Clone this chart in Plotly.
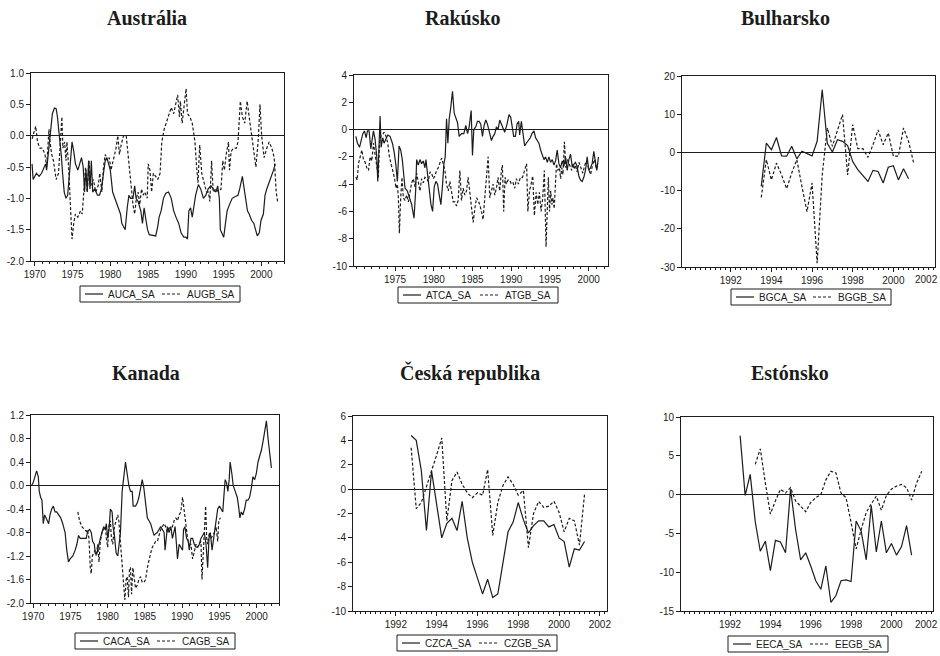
import plotly.graph_objects as go

# ---------------- data ----------------
# Austrália
au_ca_t = [1969.64,1969.78,1970.22,1970.58,1970.9,1971.21,1971.43,1971.57,1971.79,1971.93,
           1972.11,1972.33,1972.6,1972.83,1973.0,1973.27,1973.5,1973.68,1973.9,1974.13,
           1974.35,1974.53,1974.71,1974.93,1975.16,1975.38,1975.7,1975.96,1976.19,1976.41,
           1976.59,1976.77,1976.95,1977.13,1977.31,1977.49,1977.67,1977.94,1978.3,1978.57,
           1978.83,1979.1,1979.33,1979.55,1979.73,1980.0,1980.31,1980.76,1981.08,1981.35,
           1981.52,1981.79,1981.97,1982.24,1982.47,1982.69,1983.0,1983.23,1983.41,1983.68,
           1984.04,1984.26,1984.48,1984.66,1984.93,1985.16,1985.7,1986.01,1986.28,1986.46,
           1986.73,1987.04,1987.35,1987.71,1988.07,1988.39,1988.7,1989.06,1989.37,1989.73,
           1990.04,1990.22,1990.4,1990.63,1990.85,1991.08,1991.3,1991.66,1991.97,1992.33,
           1992.65,1992.96,1993.32,1993.63,1993.99,1994.22,1994.44,1994.57,1994.8,1995.02,
           1995.25,1995.47,1995.78,1996.14,1996.55,1996.91,1997.13,1997.49,1997.67,1997.94,
           1998.16,1998.39,1998.7,1999.01,1999.24,1999.46,1999.73,1999.96,2000.27,2000.49,
           2000.72,2001.03,2001.3,2001.61,2001.84]
au_ca = [-0.45,-0.7,-0.6,-0.65,-0.6,-0.5,-0.45,-0.55,-0.3,-0.1,
         0.1,0.35,0.44,0.43,0.3,0.0,-0.3,-0.6,-0.9,-1.0,
         -0.95,-0.7,-0.35,-0.1,-0.25,-0.45,-0.55,-0.45,-0.35,-0.5,
         -0.9,-0.55,-0.9,-0.4,-0.85,-0.4,-0.9,-0.85,-0.95,-0.95,
         -0.85,-0.6,-0.4,-0.35,-0.45,-0.55,-0.9,-1.05,-1.15,-1.25,
         -1.4,-1.45,-1.5,-1.15,-0.95,-1.0,-1.0,-0.8,-1.0,-1.05,
         -1.2,-1.4,-1.15,-1.3,-1.5,-1.58,-1.6,-1.6,-1.45,-1.3,
         -1.2,-1.0,-0.92,-0.9,-1.0,-1.2,-1.3,-1.4,-1.55,-1.62,
         -1.62,-1.65,-1.2,-1.15,-1.3,-1.1,-0.95,-0.78,-0.85,-1.0,
         -0.95,-0.85,-0.8,-0.85,-0.9,-0.8,-1.0,-1.5,-1.55,-1.62,
         -1.4,-1.2,-1.1,-1.0,-0.97,-0.95,-0.85,-0.65,-0.8,-1.0,
         -1.2,-1.25,-1.35,-1.4,-1.5,-1.6,-1.55,-1.35,-1.25,-0.95,
         -0.85,-0.75,-0.65,-0.55,-0.45]
au_gb_t = [1969.64,1969.91,1970.13,1970.36,1970.67,1971.03,1971.35,1971.57,1971.7,1971.88,
           1972.02,1972.24,1972.47,1972.83,1973.14,1973.36,1973.59,1973.72,1973.95,1974.13,
           1974.26,1974.48,1974.71,1974.93,1975.16,1975.38,1975.7,1976.05,1976.28,1976.5,
           1976.73,1976.95,1977.17,1977.4,1977.76,1978.07,1978.39,1978.61,1978.88,1979.1,
           1979.33,1979.64,1979.87,1980.09,1980.54,1980.76,1980.99,1981.21,1981.43,1981.75,
           1982.11,1982.33,1982.78,1983.0,1983.23,1983.45,1983.68,1983.9,1984.13,1984.35,
           1984.57,1984.89,1985.02,1985.25,1985.47,1985.7,1986.01,1986.28,1986.59,1986.82,
           1987.13,1987.4,1987.71,1988.07,1988.39,1988.61,1988.92,1989.15,1989.28,1989.51,
           1989.87,1990.04,1990.22,1990.54,1990.85,1991.21,1991.43,1991.61,1991.84,1992.11,
           1992.42,1992.74,1993.0,1993.18,1993.41,1993.63,1993.99,1994.35,1994.66,1994.89,
           1995.11,1995.34,1995.65,1995.78,1996.0,1996.32,1996.68,1996.91,1997.22,1997.49,
           1997.8,1998.12,1998.39,1998.7,1999.01,1999.28,1999.6,1999.82,2000.04,2000.36,
           2000.72,2001.03,2001.39,2001.7,2001.97,2002.15]
au_gb = [-0.05,0.05,0.15,-0.1,-0.2,-0.2,-0.3,-0.5,-0.2,0.1,
         -0.1,-0.3,-0.4,-0.7,-0.6,-0.2,0.3,-0.2,-0.1,-0.4,
         -0.1,-0.5,-1.0,-1.65,-1.4,-1.25,-1.3,-1.2,-1.25,-0.8,
         -0.5,-0.9,-0.4,-0.8,-0.7,-0.9,-0.8,-0.6,-0.9,-0.5,
         -0.3,-0.4,-0.35,-0.55,-0.3,-0.2,0.0,-0.3,-0.15,0.0,
         0.0,-0.3,-0.8,-1.1,-1.25,-1.0,-0.9,-1.1,-0.85,-0.95,
         -0.9,-1.0,-0.45,-0.55,-0.9,-0.6,-0.65,-0.7,-0.6,-0.1,
         0.1,0.2,0.35,0.45,0.35,0.5,0.65,0.3,0.55,0.2,
         0.6,0.75,0.35,0.3,0.2,-0.1,-0.5,-0.75,-0.15,-0.6,
         -0.75,-0.9,-0.9,-1.05,-0.4,-0.9,-0.85,-0.9,-0.85,-0.4,
         -0.55,-0.3,-0.1,-0.55,-0.25,-0.2,-0.2,-0.1,0.55,0.3,
         0.2,0.55,0.3,0.0,-0.3,-0.5,-0.05,0.5,0.0,-0.35,
         -0.2,-0.1,-0.2,-0.35,-0.9,-1.05]

# Rakúsko
at_ca_t = [1969.94,1970.15,1970.41,1970.58,1970.84,1971.05,1971.27,1971.44,1971.65,1971.87,
           1972.04,1972.21,1972.42,1972.64,1972.77,1972.94,1973.07,1973.2,1973.41,1973.58,
           1973.84,1974.06,1974.36,1974.66,1974.87,1975.09,1975.3,1975.52,1975.73,1975.94,
           1976.07,1976.29,1976.59,1976.85,1977.15,1977.45,1977.66,1977.79,1978.0,1978.22,
           1978.43,1978.65,1978.86,1978.99,1979.16,1979.42,1979.64,1979.85,1980.06,1980.28,
           1980.49,1980.71,1980.92,1981.14,1981.31,1981.48,1981.65,1981.82,1982.0,1982.17,
           1982.42,1982.64,1982.85,1983.07,1983.28,1983.58,1983.88,1984.14,1984.36,1984.57,
           1984.83,1985.0,1985.17,1985.43,1985.64,1985.86,1986.07,1986.29,1986.5,1986.72,
           1986.93,1987.15,1987.45,1987.66,1987.88,1988.09,1988.3,1988.52,1988.73,1988.95,
           1989.16,1989.46,1989.72,1989.94,1990.11,1990.32,1990.54,1990.75,1990.97,1991.09,
           1991.31,1991.52,1991.74,1991.95,1992.17,1992.47,1992.68,1992.94,1993.15,1993.37,
           1993.58,1993.8,1994.01,1994.23,1994.44,1994.66,1994.87,1995.09,1995.3,1995.52,
           1995.73,1995.94,1996.16,1996.37,1996.59,1996.8,1997.02,1997.23,1997.45,1997.66,
           1997.88,1998.09,1998.3,1998.52,1998.73,1998.95,1999.16,1999.38,1999.59,1999.81,
           2000.02,2000.24,2000.45,2000.67,2000.88,2001.05,2001.27]
at_ca = [-0.5,-1.0,-1.3,-0.9,-0.3,-0.1,-0.6,-0.1,-0.1,-1.4,
         -0.5,-0.1,-0.7,-2.0,-3.8,-1.5,1.0,-1.3,-0.6,-1.0,
         -0.6,-0.4,-0.5,-1.0,-1.6,-2.5,-3.8,-1.2,-1.5,-2.2,
         -3.0,-4.3,-4.5,-5.0,-5.5,-6.5,-4.5,-2.2,-2.6,-2.2,
         -2.5,-2.3,-2.8,-2.2,-3.0,-4.3,-5.5,-6.0,-4.2,-3.8,
         -4.0,-4.8,-5.5,-4.0,-2.5,-2.0,0.8,-1.0,0.8,1.5,
         2.8,1.2,0.8,0.5,-0.5,-0.3,-0.3,0.3,-0.3,0.2,
         1.4,-1.9,0.0,0.2,0.6,0.6,0.4,-0.5,0.3,0.7,
         0.4,-0.2,-0.8,-0.5,-0.3,0.2,0.0,0.7,0.4,0.1,
         -0.2,0.4,1.1,0.9,0.2,-0.5,-0.5,0.4,0.6,-0.4,
         0.6,-0.2,-1.2,-1.0,-0.8,-0.6,-0.3,-0.1,-0.6,-0.8,
         -1.0,-1.5,-1.8,-2.2,-2.0,-2.4,-2.0,-2.4,-2.2,-2.6,
         -2.3,-1.5,-2.5,-2.8,-2.3,-2.7,-2.0,-3.0,-2.2,-1.8,
         -2.7,-2.5,-2.4,-2.7,-3.4,-3.7,-3.8,-3.5,-3.0,-2.0,
         -3.0,-2.8,-2.5,-1.6,-2.3,-3.0,-2.0]
at_gb_t = [1969.94,1970.11,1970.28,1970.49,1970.71,1970.92,1971.14,1971.35,1971.57,1971.78,
           1972.0,1972.21,1972.42,1972.64,1972.85,1972.98,1973.15,1973.37,1973.58,1973.84,
           1974.06,1974.27,1974.48,1974.7,1974.91,1975.13,1975.3,1975.43,1975.56,1975.73,
           1975.9,1976.07,1976.29,1976.5,1976.72,1976.93,1977.15,1977.36,1977.58,1977.79,
           1978.0,1978.22,1978.43,1978.65,1978.86,1979.08,1979.29,1979.51,1979.72,1979.94,
           1980.15,1980.36,1980.58,1980.79,1981.01,1981.22,1981.44,1981.65,1981.87,1982.08,
           1982.3,1982.51,1982.73,1982.94,1983.15,1983.37,1983.58,1983.8,1984.01,1984.23,
           1984.44,1984.66,1984.87,1985.09,1985.3,1985.52,1985.73,1985.94,1986.16,1986.37,
           1986.59,1986.8,1987.02,1987.23,1987.45,1987.66,1987.88,1988.09,1988.3,1988.52,
           1988.73,1988.86,1989.03,1989.21,1989.38,1989.59,1989.81,1990.02,1990.24,1990.45,
           1990.67,1990.93,1991.19,1991.46,1991.72,1991.99,1992.15,1992.36,1992.57,1992.78,
           1992.99,1993.22,1993.43,1993.64,1993.86,1994.07,1994.28,1994.5,1994.65,1994.8,
           1994.95,1995.1,1995.25,1995.4,1995.55,1995.7,1995.85,1996.0,1996.23,1996.38,
           1996.53,1996.68,1996.87,1997.06,1997.25,1997.63,1997.81,1997.95,1998.1,1998.3,
           1998.5,1998.75,1999.0,1999.25,1999.5,1999.75,2000.0,2000.25,2000.5,2000.75,
           2001.0,2001.25]
at_gb = [-3.5,-3.7,-2.5,-2.0,-1.5,-2.2,-2.4,-2.8,-3.0,-2.0,
         -2.3,-1.0,-1.8,-2.6,-3.5,-1.0,-0.5,-0.4,-0.2,-0.5,
         -1.0,-2.0,-2.5,-3.0,-3.5,-4.3,-4.0,-5.0,-7.6,-5.0,
         -3.5,-5.0,-5.2,-4.8,-5.3,-4.6,-3.9,-3.6,-4.2,-3.2,
         -3.9,-4.5,-3.6,-3.9,-3.5,-3.6,-3.8,-3.1,-3.2,-3.6,
         -3.4,-3.0,-2.8,-2.5,-2.1,-2.5,-3.0,-4.0,-4.5,-3.8,
         -4.5,-5.3,-5.3,-5.6,-5.2,-3.0,-5.2,-4.3,-4.8,-4.5,
         -3.5,-4.8,-5.7,-6.8,-5.8,-5.0,-5.2,-5.5,-6.0,-6.6,
         -5.0,-3.8,-2.0,-5.0,-4.5,-4.0,-4.8,-4.3,-3.5,-4.5,
         -3.0,-2.6,-6.0,-3.5,-4.0,-3.7,-3.7,-4.0,-3.9,-4.3,
         -3.6,-4.0,-3.5,-3.5,-3.0,-2.5,-6.0,-4.5,-4.0,-3.4,
         -6.3,-4.6,-5.5,-4.6,-6.0,-5.0,-3.0,-8.6,-6.0,-3.5,
         -6.0,-4.5,-5.5,-5.0,-5.8,-4.5,-2.5,-3.0,-2.8,-3.6,
         -2.8,-3.3,-0.9,-2.8,-2.2,-2.7,-3.0,-2.5,-2.9,-2.6,
         -3.1,-2.4,-2.8,-3.2,-2.6,-2.3,-2.9,-3.3,-2.6,-2.2,
         -2.9,-2.5]

# Bulharsko (quarterly, first observation 1993 Q3)
bg_ca_start = 1993.5
bg_ca = [-8.9, 2.4, 0.7, 3.9, -0.9, -1.0, 1.6, -1.7, 0.3, -0.2,
         -0.9, 2.9, 16.4, 2.4, 0.1, 3.3, 2.9, 1.8, -2.4, -4.5,
         -6.0, -7.6, -4.7, -5.0, -8.0, -3.9, -3.5, -7.2, -4.3, -6.9]
bg_gb_start = 1993.5
bg_gb = [-11.8, -1.9, -7.2, -2.8, -5.9, -9.5, -5.4, -1.9, -8.9, -15.5,
         -8.0, -29.0, -5.9, 6.4, 1.6, 5.5, 9.9, -5.9, 7.3, 1.0,
         1.0, -1.3, 2.0, 5.9, 2.0, 5.1, -1.0, -1.0, 6.4, 2.9, -2.8]

# Kanada
ca_ca_t = [1969.77,1970.0,1970.23,1970.45,1970.68,1970.81,1970.99,1971.17,1971.35,1971.53,
           1971.71,1971.89,1972.07,1972.25,1972.48,1972.7,1972.93,1973.15,1973.38,1973.69,
           1973.96,1974.28,1974.5,1974.73,1974.95,1975.32,1975.63,1975.86,1976.08,1976.31,
           1976.53,1976.85,1977.12,1977.3,1977.57,1977.79,1977.97,1978.2,1978.33,1978.56,
           1978.78,1979.01,1979.23,1979.46,1979.68,1979.82,1980.0,1980.18,1980.36,1980.59,
           1980.72,1980.9,1981.13,1981.35,1981.53,1981.71,1981.94,1982.16,1982.39,1982.61,
           1982.84,1983.06,1983.29,1983.42,1983.74,1983.96,1984.19,1984.41,1984.64,1984.86,
           1985.09,1985.32,1985.54,1985.77,1985.99,1986.22,1986.44,1986.67,1986.89,1987.12,
           1987.34,1987.57,1987.7,1987.88,1988.02,1988.24,1988.47,1988.69,1988.83,1989.05,
           1989.23,1989.37,1989.59,1989.82,1990.05,1990.18,1990.36,1990.59,1990.81,1990.95,
           1991.17,1991.4,1991.62,1991.85,1992.07,1992.3,1992.52,1992.75,1992.97,1993.2,
           1993.42,1993.6,1993.78,1994.01,1994.23,1994.41,1994.59,1994.77,1995.0,1995.23,
           1995.45,1995.59,1995.77,1995.95,1996.13,1996.31,1996.44,1996.67,1996.85,1997.12,
           1997.39,1997.57,1997.75,1997.93,1998.15,1998.38,1998.6,1998.83,1999.05,1999.28,
           1999.5,1999.73,1999.95,2000.18,2000.41,2000.63,2000.86,2001.08,2001.31,2001.53,
           2001.76,2001.98]
ca_ca = [0.0,0.05,0.15,0.25,0.15,-0.1,-0.2,-0.25,-0.65,-0.5,
         -0.55,-0.6,-0.65,-0.5,-0.4,-0.35,-0.45,-0.45,-0.5,-0.55,
         -0.65,-0.8,-1.1,-1.3,-1.25,-1.2,-1.1,-1.0,-0.85,-0.9,
         -0.9,-0.9,-0.9,-0.78,-0.75,-0.8,-0.95,-1.0,-1.15,-1.15,
         -1.0,-0.9,-0.8,-0.7,-0.75,-0.65,-0.9,-0.75,-0.4,-0.45,
         -0.7,-0.85,-1.15,-1.2,-1.0,-0.8,-0.1,0.2,0.4,0.2,
         0.0,-0.1,-0.1,-0.35,-0.35,-0.3,-0.2,-0.05,0.1,-0.05,
         -0.3,-0.55,-0.6,-0.65,-0.75,-0.85,-0.82,-0.8,-0.75,-0.7,
         -0.75,-0.8,-1.1,-0.8,-0.7,-0.8,-0.7,-0.9,-0.8,-0.7,
         -1.0,-1.25,-1.0,-1.05,-1.1,-0.75,-0.7,-0.9,-0.95,-1.1,
         -0.9,-0.9,-1.0,-1.05,-1.05,-1.0,-0.9,-0.85,-0.8,-1.0,
         -1.4,-0.9,-0.8,-1.1,-0.9,-0.8,-0.55,-0.4,-0.35,-0.4,
         -0.45,-0.2,0.1,0.05,-0.1,0.1,0.4,0.2,0.0,-0.1,
         -0.2,-0.35,-0.55,-0.45,-0.5,-0.4,-0.25,-0.25,-0.2,-0.05,
         0.15,0.1,0.2,0.4,0.5,0.6,0.75,0.9,1.1,0.8,
         0.5,0.3]
ca_gb_t = [1975.99,1976.22,1976.53,1976.85,1977.12,1977.3,1977.48,1977.66,1977.79,1977.93,
           1978.11,1978.33,1978.47,1978.65,1978.83,1979.01,1979.23,1979.46,1979.68,1979.82,
           1980.0,1980.14,1980.36,1980.5,1980.68,1980.9,1981.13,1981.35,1981.49,1981.71,
           1981.94,1982.16,1982.3,1982.48,1982.61,1982.79,1982.93,1983.06,1983.2,1983.38,
           1983.51,1983.74,1983.96,1984.19,1984.41,1984.64,1984.86,1985.09,1985.32,1985.54,
           1985.77,1985.99,1986.22,1986.44,1986.67,1986.89,1987.12,1987.34,1987.57,1987.79,
           1988.02,1988.24,1988.47,1988.69,1988.92,1989.14,1989.37,1989.59,1989.82,1990.05,
           1990.27,1990.5,1990.72,1990.95,1991.17,1991.4,1991.62,1991.85,1992.07,1992.3,
           1992.52,1992.66,1992.84,1992.97,1993.15,1993.29,1993.42,1993.65,1993.87,1994.1,
           1994.32,1994.55,1994.77,1994.91,1995.14]
ca_gb = [-0.45,-0.6,-0.7,-0.75,-0.78,-0.75,-0.9,-1.4,-1.5,-1.2,
         -1.15,-1.1,-1.2,-1.0,-1.3,-0.95,-0.8,-0.75,-0.7,-0.9,
         -1.05,-0.7,-0.6,-0.9,-1.0,-0.7,-0.6,-0.5,-0.6,-1.0,
         -1.4,-1.7,-1.95,-1.6,-1.55,-1.9,-1.4,-1.4,-1.85,-1.4,
         -1.5,-1.75,-1.7,-1.6,-1.55,-1.65,-1.65,-1.6,-1.4,-1.25,
         -1.15,-1.05,-1.0,-0.95,-0.95,-0.85,-0.75,-0.7,-0.65,-0.7,
         -0.8,-0.7,-0.75,-0.7,-0.6,-0.55,-0.6,-0.5,-0.45,-0.2,
         -0.4,-0.7,-0.9,-1.0,-1.0,-1.25,-1.1,-1.0,-1.05,-1.0,
         -0.95,-1.6,-1.2,-0.9,-0.35,-0.9,-1.0,-0.8,-0.9,-0.85,
         -0.8,-0.7,-0.95,-0.6,-0.55]

# Česká republika (quarterly, first observation 1992 Q4)
cz_ca_start = 1992.75
cz_ca = [4.4, 4.0, 1.5, -3.4, 1.5, -1.2, -4.0, -2.8, -2.4, -3.4,
         -1.0, -4.0, -6.0, -7.3, -8.6, -7.4, -8.9, -8.6, -6.0, -3.5,
         -2.7, -1.1, -2.5, -3.6, -3.0, -2.6, -2.6, -3.1, -2.9, -4.0,
         -4.3, -6.4, -4.9, -5.0, -4.3]
cz_gb_start = 1992.75
cz_gb = [3.4, -1.6, -1.1, 0.3, 1.5, 2.8, 4.2, -2.6, 0.7, 1.4,
         0.4, -0.3, -0.7, -0.3, -0.5, 1.6, -3.8, -1.1, 0.3, 1.0,
         0.4, -0.5, -0.1, -4.8, -2.0, -1.0, -1.5, -1.4, -1.0, -1.9,
         -3.5, -2.4, -2.6, -4.6, -0.4]

# Estónsko (quarterly)
ee_ca_start = 1992.5
ee_ca = [7.6, -0.1, 2.6, -3.5, -7.3, -6.0, -9.8, -5.9, -6.1, -7.5,
         0.7, -4.5, -8.4, -7.5, -9.2, -11.1, -12.2, -9.2, -13.9, -13.0,
         -11.1, -11.0, -11.2, -3.4, -4.7, -8.4, -1.4, -7.4, -3.4, -7.5,
         -6.3, -7.8, -6.7, -4.0, -7.8]
ee_gb_start = 1993.25
ee_gb = [3.9, 5.9, 1.5, -2.5, -0.8, 0.7, 0.2, 0.9, -0.8, -1.5,
         -2.2, -1.0, -0.4, 0.0, 1.9, 3.0, 2.8, 0.2, -0.4, -3.6,
         -7.0, -4.5, -2.3, -1.2, -0.2, -2.0, -0.1, 0.7, 1.1, 1.3,
         0.9, -0.7, 1.5, 3.0]

# tick labels
yt_au = [1.0, 0.5, 0.0, -0.5, -1.0, -1.5, -2.0]
yl_au = ["1.0", "0.5", "0.0", "-0.5", "-1.0", "-1.5", "-2.0"]
yt_at = [4, 2, 0, -2, -4, -6, -8, -10]
yl_at = ["4", "2", "0", "-2", "-4", "-6", "-8", "-10"]
yt_bg = [20, 10, 0, -10, -20, -30]
yl_bg = ["20", "10", "0", "-10", "-20", "-30"]
yt_ca = [1.2, 0.8, 0.4, 0.0, -0.4, -0.8, -1.2, -1.6, -2.0]
yl_ca = ["1.2", "0.8", "0.4", "0.0", "-0.4", "-0.8", "-1.2", "-1.6", "-2.0"]
yt_cz = [6, 4, 2, 0, -2, -4, -6, -8, -10]
yl_cz = ["6", "4", "2", "0", "-2", "-4", "-6", "-8", "-10"]
yt_ee = [10, 5, 0, -5, -10, -15]
yl_ee = ["10", "5", "0", "-5", "-10", "-15"]
xt_long = [1970, 1975, 1980, 1985, 1990, 1995, 2000]
xt_at = [1975, 1980, 1985, 1990, 1995, 2000]
xt_short = [1992, 1994, 1996, 1998, 2000, 2002]


def quarters(start, vals):
    return [start + 0.25 * i for i in range(len(vals))]


INK = "#1c1c1c"
SANS = "Liberation Sans, Arial, sans-serif"
SERIF = "Liberation Serif, Times New Roman, serif"
W, H = 940, 656
DASH = "3px,2px"


def px(x):
    return x / W


def py(y):
    return 1 - y / H


panels = [
    dict(title="Austrália", tx=147, ty=18,
         box=(31, 73, 284, 261), xr=[1969.5, 2003.0], yr=[-2.0, 1.0],
         xt=xt_long, minor=1.0, m0=1970, yt=yt_au, yl=yl_au,
         s1=("AUCA_SA", au_ca_t, au_ca), s2=("AUGB_SA", au_gb_t, au_gb),
         leg=(160, 294), edge=False),
    dict(title="Rakúsko", tx=463, ty=18,
         box=(354, 75, 608, 266), xr=[1969.7, 2002.5], yr=[-10, 4],
         xt=xt_at, minor=1.0, m0=1970, yt=yt_at, yl=yl_at,
         s1=("ATCA_SA", at_ca_t, at_ca), s2=("ATGB_SA", at_gb_t, at_gb),
         leg=(478, 295), edge=False),
    dict(title="Bulharsko", tx=785, ty=18,
         box=(682, 76, 935, 267), xr=[1989.6, 2002.05], yr=[-30, 20],
         xt=xt_short, minor=0.25, m0=1989.75, yt=yt_bg, yl=yl_bg,
         s1=("BGCA_SA", quarters(bg_ca_start, bg_ca), bg_ca),
         s2=("BGGB_SA", quarters(bg_gb_start, bg_gb), bg_gb),
         leg=(811, 297), edge=True),
    dict(title="Kanada", tx=146, ty=373,
         box=(31, 415, 279, 603), xr=[1969.7, 2003.0], yr=[-2.0, 1.2],
         xt=xt_long, minor=1.0, m0=1970, yt=yt_ca, yl=yl_ca,
         s1=("CACA_SA", ca_ca_t, ca_ca), s2=("CAGB_SA", ca_gb_t, ca_gb),
         leg=(155, 641), edge=False),
    dict(title="Česká republika", tx=470, ty=373,
         box=(353, 416, 607, 611), xr=[1989.9, 2002.35], yr=[-10, 6],
         xt=xt_short, minor=0.25, m0=1990, yt=yt_cz, yl=yl_cz,
         s1=("CZCA_SA", quarters(cz_ca_start, cz_ca), cz_ca),
         s2=("CZGB_SA", quarters(cz_gb_start, cz_gb), cz_gb),
         leg=(477, 643), edge=False),
    dict(title="Estónsko", tx=790, ty=373,
         box=(681, 417, 933, 611), xr=[1989.57, 2002.06], yr=[-15, 10],
         xt=xt_short, minor=0.25, m0=1989.75, yt=yt_ee, yl=yl_ee,
         s1=("EECA_SA", quarters(ee_ca_start, ee_ca), ee_ca),
         s2=("EEGB_SA", quarters(ee_gb_start, ee_gb), ee_gb),
         leg=(808, 644), edge=True),
]

fig = go.Figure()
layout = dict(
    template="none",
    width=W, height=H, margin=dict(l=0, r=0, t=0, b=0, autoexpand=False),
    paper_bgcolor="white", plot_bgcolor="white",
    font=dict(family=SANS, size=10, color=INK),
    showlegend=False, annotations=[], shapes=[], hovermode=False,
)

for i, p in enumerate(panels, start=1):
    sfx = "" if i == 1 else str(i)
    xa, ya = "x" + sfx, "y" + sfx
    x0, y0, x1, y1 = p["box"]
    n1, t1, v1 = p["s1"]
    n2, t2, v2 = p["s2"]
    fig.add_trace(go.Scatter(x=t1, y=v1, mode="lines", name=n1,
                             line=dict(color=INK, width=1.2),
                             xaxis=xa, yaxis=ya))
    fig.add_trace(go.Scatter(x=t2, y=v2, mode="lines", name=n2,
                             line=dict(color=INK, width=1.2, dash=DASH),
                             xaxis=xa, yaxis=ya))
    nminor = int((p["xr"][1] - p["m0"]) / p["minor"]) + 1
    minor_vals = [p["m0"] + k * p["minor"] for k in range(nminor)]
    xlabels = [str(v) for v in p["xt"]]
    if p["edge"]:
        # the last year label sits on the page edge: draw it as an
        # annotation pushed just inside the page so it stays readable
        xlabels[-1] = ""
        layout["annotations"].append(dict(
            text=str(p["xt"][-1]), x=1.0, y=py(y1 + 13), xref="paper", yref="paper",
            xanchor="right", yanchor="middle", showarrow=False,
            font=dict(family=SANS, size=10, color=INK)))
    layout["xaxis" + sfx] = dict(
        domain=[px(x0), px(x1)], anchor=ya, range=p["xr"], automargin=False,
        tickmode="array", tickvals=p["xt"], ticktext=xlabels,
        ticks="outside", ticklen=4, tickcolor=INK, tickwidth=1,
        minor=dict(tickmode="array", tickvals=minor_vals, ticks="outside",
                   ticklen=2, tickcolor=INK, showgrid=False),
        showline=True, mirror=True, linecolor=INK, linewidth=1,
        showgrid=False, zeroline=False, fixedrange=True,
        tickfont=dict(size=10, family=SANS, color=INK),
    )
    layout["yaxis" + sfx] = dict(
        domain=[py(y1), py(y0)], anchor=xa, range=p["yr"], automargin=False,
        tickmode="array", tickvals=p["yt"], ticktext=p["yl"],
        ticks="outside", ticklen=4, tickcolor=INK, tickwidth=1,
        showline=True, mirror=True, linecolor=INK, linewidth=1,
        showgrid=False, zeroline=True, zerolinecolor=INK, zerolinewidth=1,
        fixedrange=True, tickfont=dict(size=10, family=SANS, color=INK),
    )
    # title
    layout["annotations"].append(dict(
        text="<b>" + p["title"] + "</b>", x=px(p["tx"]), y=py(p["ty"]),
        xref="paper", yref="paper", xanchor="center", yanchor="middle",
        showarrow=False, font=dict(family=SERIF, size=20, color=INK),
    ))
    # legend box drawn by hand (EViews style)
    cx, cy = p["leg"]
    L = cx - 80
    layout["shapes"].append(dict(type="rect", xref="paper", yref="paper",
                                 x0=px(L), x1=px(L + 160), y0=py(cy + 8), y1=py(cy - 8),
                                 line=dict(color=INK, width=1), fillcolor="white"))
    layout["shapes"].append(dict(type="line", xref="paper", yref="paper",
                                 x0=px(L + 5), x1=px(L + 23), y0=py(cy), y1=py(cy),
                                 line=dict(color=INK, width=1.2)))
    layout["shapes"].append(dict(type="line", xref="paper", yref="paper",
                                 x0=px(L + 82), x1=px(L + 102), y0=py(cy), y1=py(cy),
                                 line=dict(color=INK, width=1.2, dash=DASH)))
    layout["annotations"].append(dict(
        text=n1, x=px(L + 26), y=py(cy), xref="paper", yref="paper",
        xanchor="left", yanchor="middle", showarrow=False,
        font=dict(family=SANS, size=10, color=INK)))
    layout["annotations"].append(dict(
        text=n2, x=px(L + 105), y=py(cy), xref="paper", yref="paper",
        xanchor="left", yanchor="middle", showarrow=False,
        font=dict(family=SANS, size=10, color=INK)))

fig.update_layout(**layout)
fig.write_html("out.html",
               config={"displayModeBar": False, "staticPlot": True},
               post_script="document.body.style.margin='0px';"
                           "document.body.style.overflow='hidden';")
